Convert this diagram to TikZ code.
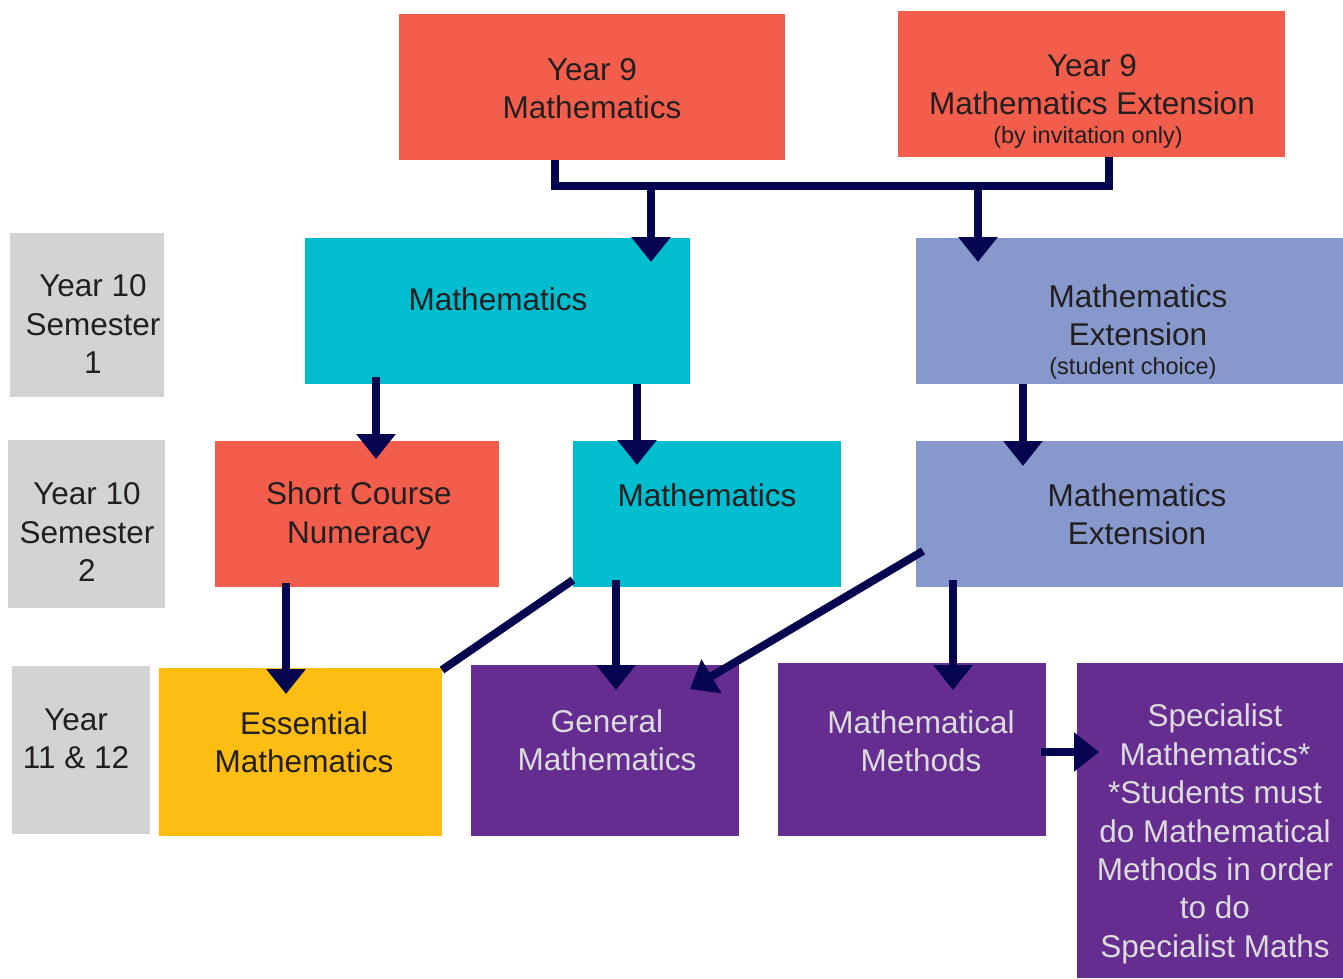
\documentclass[tikz,border=0pt]{standalone}
\usepackage{fontspec}
\setmainfont{Liberation Sans}
\usetikzlibrary{arrows.meta,calc}
\definecolor{cRed}{HTML}{F25D4C}
\definecolor{cCyan}{HTML}{00BDD0}
\definecolor{cBlue}{HTML}{8799CC}
\definecolor{cYellow}{HTML}{FDBD12}
\definecolor{cPurple}{HTML}{642D8F}
\definecolor{cGrey}{HTML}{D1D3D4}
\definecolor{cNavy}{HTML}{050550}
\definecolor{cDark}{HTML}{231F20}
\definecolor{cLight}{HTML}{DCDCDC}
\tikzset{
  box/.style={draw=none, rectangle, inner sep=0pt, outer sep=0pt, anchor=north west},
  txt/.style={align=center, font=\fontsize{31.5}{38.4}\selectfont, text=cDark, inner sep=0pt},
  ltxt/.style={txt, text=cLight},
  smalltxt/.style={align=center, font=\fontsize{23.5}{28}\selectfont, text=cDark, inner sep=0pt},
  conn/.style={draw=cNavy, line width=8pt},
  arr/.style={conn, -{Triangle[width=38pt,length=25pt]}},
}
\begin{document}
\begin{tikzpicture}[x=1pt,y=-1pt]
\useasboundingbox (0,0) rectangle (1343,978);
% boxes
\node[box, fill=cRed, minimum width=386pt, minimum height=146pt] (y9m) at (399,14) {};
\node[box, fill=cRed, minimum width=387pt, minimum height=146pt] (y9e) at (898,11) {};
\node[box, fill=cGrey, minimum width=154pt, minimum height=164pt] (g1) at (10,233) {};
\node[box, fill=cCyan, minimum width=385pt, minimum height=146pt] (m1) at (305,238) {};
\node[box, fill=cBlue, minimum width=427pt, minimum height=146pt] (e1) at (916,238) {};
\node[box, fill=cGrey, minimum width=157pt, minimum height=168pt] (g2) at (8,440) {};
\node[box, fill=cRed, minimum width=284pt, minimum height=146pt] (sc) at (215,441) {};
\node[box, fill=cCyan, minimum width=268pt, minimum height=146pt] (m2) at (573,441) {};
\node[box, fill=cBlue, minimum width=427pt, minimum height=146pt] (e2) at (916,441) {};
\node[box, fill=cGrey, minimum width=138pt, minimum height=168pt] (g3) at (12,666) {};
\node[box, fill=cYellow, minimum width=283pt, minimum height=168pt] (ess) at (159,668) {};
\node[box, fill=cPurple, minimum width=268pt, minimum height=171pt] (gen) at (471,665) {};
\node[box, fill=cPurple, minimum width=268pt, minimum height=173pt] (mm) at (778,663) {};
\node[box, fill=cPurple, minimum width=266pt, minimum height=315pt] (sp) at (1077,663) {};
% texts
\node[txt] (t-y9m) at (592,88.5) {Year 9\\Mathematics};
\node[txt] (t-y9e) at (1092,84.5) {Year 9\\Mathematics Extension};
\node[smalltxt] (t-y9e2) at (1088,137) {(by invitation only)};
\node[txt] (t-g1) at (93,324) {Year 10\\Semester\\1};
\node[txt] (t-m1) at (498,299) {Mathematics};
\node[txt] (t-e1) at (1138,315) {Mathematics\\Extension};
\node[smalltxt] (t-e1b) at (1133,368) {(student choice)};
\node[txt] (t-g2) at (87,532) {Year 10\\Semester\\2};
\node[txt] (t-sc) at (359,516) {Short Course\\Numeracy};
\node[txt] (t-m2) at (707,495) {Mathematics};
\node[txt] (t-e2) at (1137,514.5) {Mathematics\\Extension};
\node[txt] (t-g3) at (76,739) {Year\\11 \& 12};
\node[txt] (t-ess) at (304,742.5) {Essential\\Mathematics};
\node[ltxt] (t-gen) at (607,740) {General\\Mathematics};
\node[ltxt] (t-mm) at (921,741.5) {Mathematical\\Methods};
\node[ltxt] (t-sp) at (1215,834) {Specialist\\Mathematics*\\*Students must\\do Mathematical\\Methods in order\\to do\\Specialist Maths};
% bracket from Year 9 boxes
\coordinate (bl) at ([xshift=156pt]y9m.south west);
\coordinate (br) at ([xshift=211pt]y9e.south west);
\draw[conn, line join=miter] (bl) -- ++(0,26) -| (br);
\draw[arr] ([xshift=346pt,yshift=52pt]m1.north west) -- ([xshift=346pt,yshift=-24pt]m1.north west);
\draw[arr] ([xshift=62pt,yshift=52pt]e1.north west) -- ([xshift=62pt,yshift=-24pt]e1.north west);
% Year 10 S1 -> S2
\draw[arr] ([xshift=71pt,yshift=7pt]m1.south west) -- ([xshift=161pt,yshift=-18pt]sc.north west);
\draw[arr] ([xshift=332pt]m1.south west) -- ([xshift=64pt,yshift=-24pt]m2.north west);
\draw[arr] ([xshift=107pt]e1.south west) -- ([xshift=107pt,yshift=-25pt]e2.north west);
% Year 10 S2 -> Year 11/12
\draw[arr] ([xshift=71pt,yshift=4pt]sc.south west) -- ([xshift=127pt,yshift=-26pt]ess.north west);
\draw[conn] ([yshift=7pt]m2.south west) -- ([yshift=-2pt]ess.north east);
\draw[arr] ([xshift=43pt,yshift=7pt]m2.south west) -- ([xshift=145pt,yshift=-25pt]gen.north west);
\draw[arr] ([xshift=7pt,yshift=-110pt]e2.north west) -- ([xshift=219pt,yshift=-24pt]gen.north west);
\draw[arr] ([xshift=37pt,yshift=7pt]e2.south west) -- ([xshift=175pt,yshift=-27pt]mm.north west);
\draw[arr] ([xshift=-5pt,yshift=-89pt]mm.north east) -- ([xshift=22pt,yshift=-89pt]sp.north west);
\end{tikzpicture}
\end{document}
